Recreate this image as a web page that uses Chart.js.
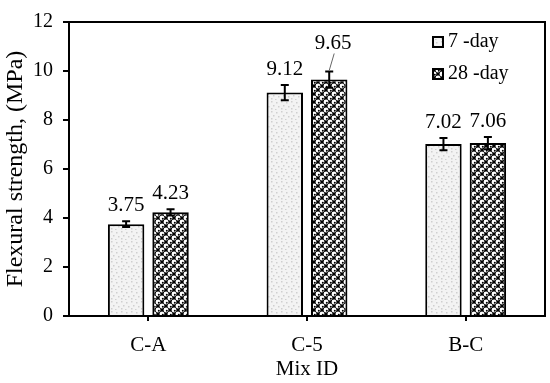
<!DOCTYPE html>
<html>
<head>
<meta charset="utf-8">
<script src="https://cdn.jsdelivr.net/npm/chart.js@4.4.1/dist/chart.umd.min.js"></script>
<style>
  html, body { margin: 0; padding: 0; background: #fff; }
  #wrap { width: 550px; height: 383px; }
</style>
</head>
<body>
<div id="wrap"><canvas id="myChart" width="550" height="383"></canvas></div>
<script>
// dane wykresu
const mixIds = ['C-A', 'C-5', 'B-C'];
const day7 = [3.75, 9.12, 7.02];
const day28 = [4.23, 9.65, 7.06];
const err7 = [0.12, 0.31, 0.25];
const err28 = [0.13, 0.33, 0.25];
const seriesNames = ['7 -day', '28 -day'];

const FONT = "'Liberation Serif', 'Times New Roman', serif";

// wzor kropkowany (7 dni)
function dotPattern() {
  const c = document.createElement('canvas');
  c.width = 10; c.height = 10;
  const g = c.getContext('2d');
  g.fillStyle = '#f3f3f3';
  g.fillRect(0, 0, 10, 10);
  g.fillStyle = '#cfcfcf';
  const pts = [[1,1],[6,2],[3,5],[8,6],[1,8],[5,9]];
  pts.forEach(p => g.fillRect(p[0], p[1], 1.5, 1.5));
  return g.createPattern(c, 'repeat');
}

// wzor kulki (28 dni)
function ballPattern() {
  const c = document.createElement('canvas');
  c.width = 8; c.height = 8;
  const g = c.getContext('2d');
  g.fillStyle = '#000';
  g.fillRect(0, 0, 8, 8);
  g.fillStyle = '#fff';
  [[2,2],[6,6],[-2,6],[6,-2],[10,6],[6,10],[2,10],[10,2]].forEach(p => {
    g.beginPath(); g.arc(p[0], p[1], 2.4, 0, Math.PI * 2); g.fill();
  });
  g.fillStyle = '#000';
  [[2.8,2.8],[6.8,6.8]].forEach(p => {
    g.beginPath(); g.arc(p[0], p[1], 1, 0, Math.PI * 2); g.fill();
  });
  return g.createPattern(c, 'repeat');
}

const fills = [dotPattern(), ballPattern()];
const errors = [err7, err28];

// slupki bledow, etykiety, ramka i legenda
const extras = {
  id: 'extras',
  afterDatasetsDraw(chart, args, opts) {
    const ctx = chart.ctx;
    const y = chart.scales.y;
    const area = chart.chartArea;
    ctx.save();
    ctx.strokeStyle = '#000';
    ctx.fillStyle = '#000';
    ctx.lineWidth = 2;
    chart.data.datasets.forEach((ds, di) => {
      const meta = chart.getDatasetMeta(di);
      meta.data.forEach((bar, i) => {
        const v = ds.data[i];
        const e = errors[di][i];
        const yt = y.getPixelForValue(v + e);
        const yb = y.getPixelForValue(v - e);
        ctx.beginPath();
        ctx.moveTo(bar.x, yt); ctx.lineTo(bar.x, yb);
        ctx.moveTo(bar.x - 4, yt); ctx.lineTo(bar.x + 4, yt);
        ctx.moveTo(bar.x - 4, yb); ctx.lineTo(bar.x + 4, yb);
        ctx.stroke();

        const shift = (opts.shift[di] || [])[i] || [0, 0];
        const lx = bar.x + shift[0];
        const ly = yt - 10 - shift[1];
        ctx.font = '21px ' + FONT;
        ctx.textAlign = 'center';
        ctx.textBaseline = 'alphabetic';
        ctx.fillText(v.toFixed(2), lx, ly);
        if (shift[1] > 0) {
          ctx.lineWidth = 1;
          ctx.strokeStyle = '#666';
          ctx.beginPath();
          ctx.moveTo(lx + 1, ly + 4);
          ctx.lineTo(bar.x, yt - 1);
          ctx.stroke();
          ctx.lineWidth = 2;
          ctx.strokeStyle = '#000';
        }
      });
    });

    // ramka wykresu
    ctx.lineWidth = 2;
    ctx.strokeRect(area.left, area.top, area.right - area.left, area.bottom - area.top);

    // legenda
    ctx.font = '20px ' + FONT;
    ctx.textAlign = 'left';
    ctx.textBaseline = 'middle';
    seriesNames.forEach((name, i) => {
      const bx = 433, by = 37 + i * 32;
      ctx.fillStyle = fills[i];
      ctx.fillRect(bx, by, 10, 10);
      ctx.strokeStyle = '#000';
      ctx.lineWidth = 2;
      ctx.strokeRect(bx, by, 10, 10);
      ctx.fillStyle = '#000';
      ctx.fillText(name, bx + 15, by + 5);
    });
    ctx.restore();
  }
};

new Chart(document.getElementById('myChart'), {
  type: 'bar',
  data: {
    labels: mixIds,
    datasets: [
      { label: seriesNames[0], data: day7, backgroundColor: fills[0], borderColor: '#000', borderWidth: 2 },
      { label: seriesNames[1], data: day28, backgroundColor: fills[1], borderColor: '#000', borderWidth: 2 }
    ]
  },
  options: {
    responsive: false,
    animation: false,
    events: [],
    layout: { padding: { top: 12, right: 5, left: 0, bottom: 0 } },
    datasets: { bar: { categoryPercentage: 0.56, barPercentage: 0.82 } },
    plugins: {
      legend: { display: false },
      tooltip: { enabled: false },
      extras: { shift: [[], [null, [4, 12], null]] }
    },
    scales: {
      x: {
        afterFit: s => { s.height = 67; },
        grid: { offset: false, drawOnChartArea: false, tickLength: 5, color: '#000', lineWidth: 2 },
        border: { color: '#000', width: 2 },
        ticks: { color: '#000', font: { family: FONT, size: 21 }, padding: 12 },
        title: { display: true, text: 'Mix ID', color: '#000', font: { family: FONT, size: 21, lineHeight: 1 }, padding: { top: 0, bottom: 3 } }
      },
      y: {
        min: 0, max: 12,
        afterFit: s => { s.width = 69; },
        grid: { drawOnChartArea: false, tickLength: 6, color: '#000', lineWidth: 2 },
        border: { color: '#000', width: 2 },
        ticks: { stepSize: 2, color: '#000', font: { family: FONT, size: 20 }, padding: 10 },
        title: { display: true, text: 'Flexural strength, (MPa)', color: '#000', font: { family: FONT, size: 24 }, padding: { top: 1, bottom: 0 } }
      }
    }
  },
  plugins: [extras]
});
</script>
</body>
</html>
